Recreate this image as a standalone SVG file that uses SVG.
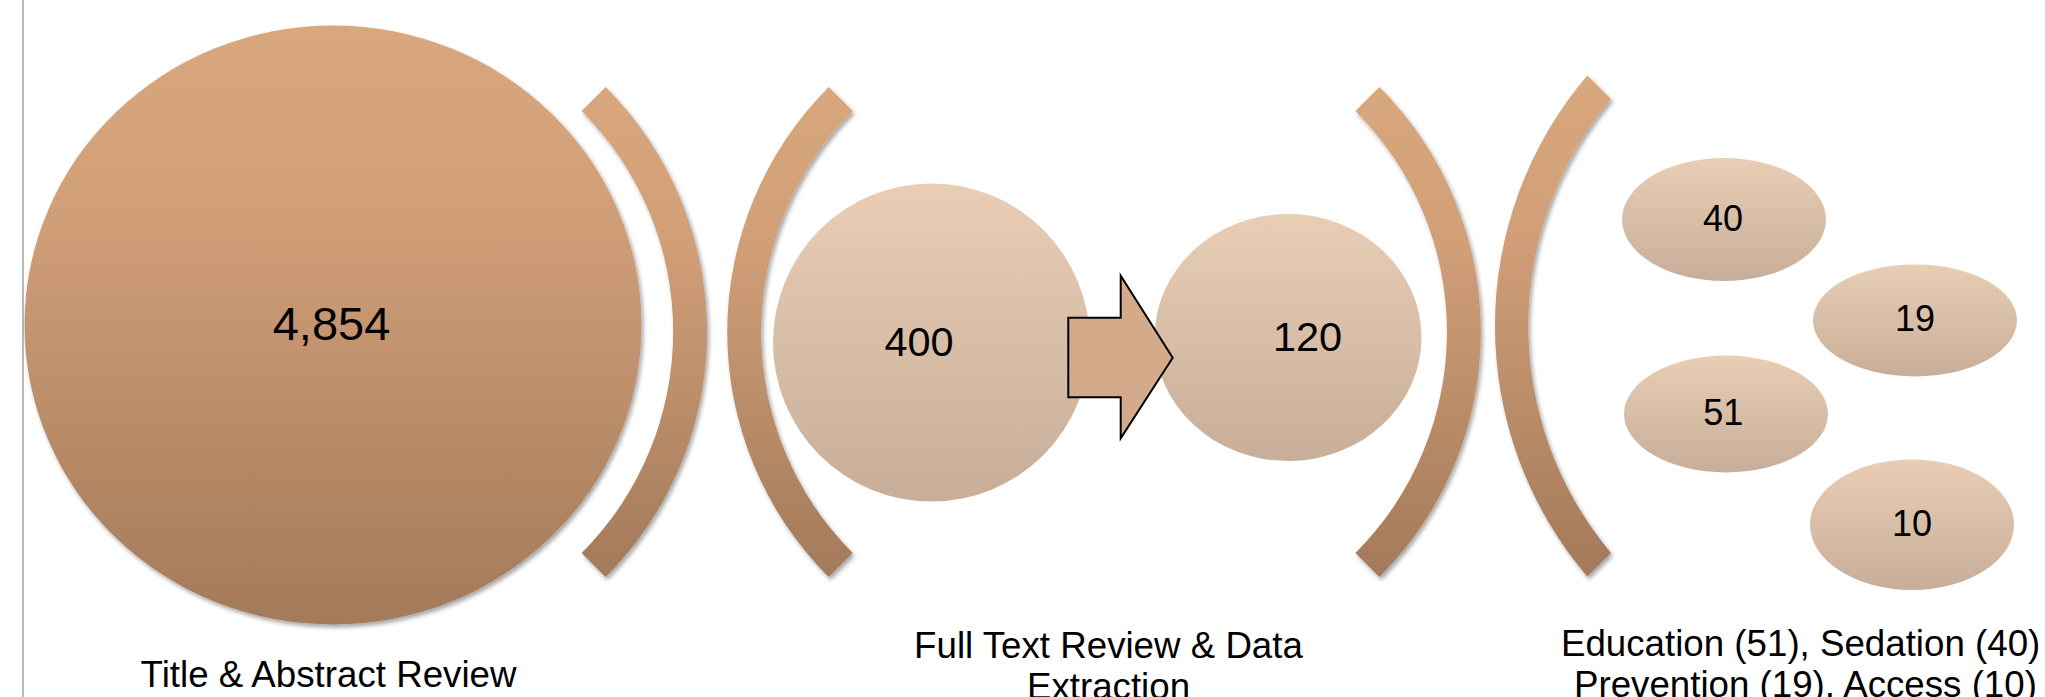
<svg xmlns="http://www.w3.org/2000/svg" width="2045" height="697" viewBox="0 0 2045 697">
<defs>
<linearGradient id="dark" x1="0" y1="0" x2="0" y2="1">
<stop offset="0" stop-color="#D9A77C"/>
<stop offset="0.3" stop-color="#D2A078"/>
<stop offset="1" stop-color="#A37A5A"/>
</linearGradient>
<linearGradient id="light" x1="0" y1="0" x2="0" y2="1">
<stop offset="0" stop-color="#E9CEB5"/>
<stop offset="1" stop-color="#C8AE99"/>
</linearGradient>
<filter id="sh" x="-10%" y="-10%" width="130%" height="130%">
<feDropShadow dx="2" dy="3" stdDeviation="2.2" flood-color="#000" flood-opacity="0.35"/>
</filter>
</defs>
<style>
.dark{fill:url(#dark);filter:url(#sh)}
.light{fill:url(#light)}
.t{font-family:"Liberation Sans",Arial,sans-serif;fill:#000}
.big{font-size:47px;text-anchor:middle}
.mid{font-size:41.5px;text-anchor:middle}
.sm{font-size:36px;text-anchor:middle}
.lbl{font-size:36.7px}
</style>
<rect width="2045" height="697" fill="#fff"/>
<line x1="23" y1="0" x2="23" y2="697" stroke="#A6A6A6" stroke-width="1.6"/>

<g id="node-title-abstract">
<ellipse class="dark" cx="333" cy="325" rx="308.5" ry="299.5"/>
<text class="t big" x="331.5" y="340">4,854</text>
<text class="t lbl" x="140.6" y="686.7">Title &amp; Abstract Review</text>
</g>

<g id="bracket-1">
<path class="dark" d="M605.6 87 A346.5 346.5 0 0 1 605.6 577 L581.6 553 A312.5 312.5 0 0 0 581.6 111 Z"/>
</g>
<g id="bracket-2">
<path class="dark" d="M828.7 87 A346.5 346.5 0 0 0 828.7 577 L852.7 553 A312.5 312.5 0 0 1 852.7 111 Z"/>
</g>

<g id="node-fulltext-400">
<ellipse class="light" cx="931.5" cy="342.5" rx="158.5" ry="159"/>
<text class="t mid" x="919" y="356">400</text>
</g>

<g id="node-fulltext-120">
<ellipse class="light" cx="1288" cy="337.5" rx="133.5" ry="123.5"/>
<text class="t mid" x="1307.5" y="351">120</text>
</g>

<g id="label-fulltext">
<text class="t lbl" x="1108.5" y="658" text-anchor="middle">Full Text Review &amp; Data</text>
<text class="t lbl" x="1108.5" y="699" text-anchor="middle">Extraction</text>
</g>

<g id="bracket-3">
<path class="dark" d="M1379.4 87 A346.5 346.5 0 0 1 1379.4 577 L1355.4 553 A312.5 312.5 0 0 0 1355.4 111 Z"/>
</g>
<g id="bracket-4">
<path class="dark" d="M1587.3 75.5 A386 386 0 0 0 1587.3 576.5 L1611 553 A352.7 352.7 0 0 1 1611 99 Z"/>
</g>

<g id="node-sedation">
<ellipse class="light" cx="1724" cy="219.5" rx="102" ry="61.5"/>
<text class="t sm" x="1723" y="231">40</text>
</g>
<g id="node-prevention">
<ellipse class="light" cx="1915" cy="320.4" rx="102" ry="56"/>
<text class="t sm" x="1915" y="331">19</text>
</g>
<g id="node-education">
<ellipse class="light" cx="1726" cy="414" rx="102" ry="58.4"/>
<text class="t sm" x="1723.3" y="425">51</text>
</g>
<g id="node-access">
<ellipse class="light" cx="1912" cy="524.7" rx="102" ry="65.3"/>
<text class="t sm" x="1912" y="535.5">10</text>
</g>

<g id="label-categories">
<text class="t lbl" x="1561" y="656">Education (51), Sedation (40)</text>
<text class="t lbl" x="1574" y="697">Prevention (19), Access (10)</text>
</g>

<g id="connectors">
<path d="M1068.3 317.7 L1120.7 317.7 L1120.7 275.7 L1172.7 357.7 L1120.7 438.3 L1120.7 397.3 L1068.3 397.3 Z" fill="#D4AB8A" stroke="#000" stroke-width="2" stroke-linejoin="miter"/>
</g>
</svg>
